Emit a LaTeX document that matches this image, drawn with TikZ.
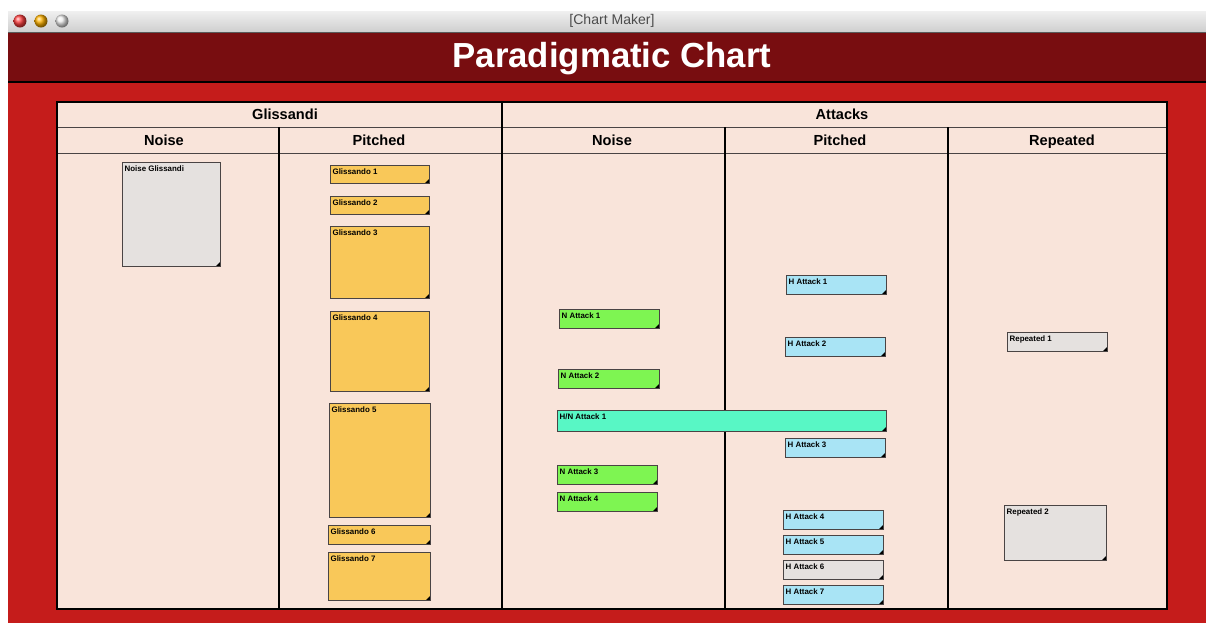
\documentclass[tikz,border=0pt]{standalone}
\usepackage{fontspec}
\setmainfont{Liberation Sans}
\usetikzlibrary{shadings}

\definecolor{winred}{HTML}{C51C1B}
\definecolor{bandred}{HTML}{780D10}
\definecolor{paper}{HTML}{F9E4DA}
\definecolor{glissyellow}{HTML}{F9C859}
\definecolor{noisegreen}{HTML}{7EF552}
\definecolor{hngreen}{HTML}{58F7C5}
\definecolor{pitchblue}{HTML}{A9E4F5}
\definecolor{cardgrey}{HTML}{E5E1DF}
\definecolor{cardedge}{HTML}{4A4444}
\definecolor{rulegrey}{HTML}{4A4444}

\def\px{0.02cm}
\tikzset{
  card/.style={draw=cardedge, line width=0.6pt, inner sep=0pt, anchor=north west,
    path picture={\fill[black] (path picture bounding box.south east)
      -- ++(-5,0) -- ++(5,-5) -- cycle;}},
  cardlabel/.style={anchor=north west, inner xsep=1.3pt, inner ysep=2pt,
    font=\fontsize{4.5}{5}\selectfont\bfseries},
  colhead/.style={anchor=base, font=\fontsize{8.3}{10}\selectfont\bfseries},
  light/.style={circle, minimum size=13*\px, inner sep=0pt, shading=ball},
}
% #1 fill, #2 name, #3 x, #4 y, #5 width, #6 height, #7 text
\newcommand{\card}[7]{%
  \node[card, fill=#1, minimum width=#5*\px, minimum height=#6*\px,
        label={[cardlabel]north west:#7}] (#2) at (#3,#4) {};}

\begin{document}
\begin{tikzpicture}[x=0.02cm, y=-0.02cm]
  \useasboundingbox (0,0) rectangle (1206,623);
  \fill[white] (0,0) rectangle (1206,623);

  % window
  \shade[top color=gray!12, bottom color=gray!38] (8,11) rectangle (1206,32);
  \fill[bandred] (8,32) rectangle (1206,82);
  \draw[gray!70!black, line width=0.6pt] (8,32.5) -- (1206,32.5);
  \fill[winred] (8,82) rectangle (1206,623);
  \draw[black, line width=0.6pt] (8,82) -- (1206,82);

  \node[light, ball color=red!75!white]      (close) at (20,21) {};
  \node[light, ball color=orange!60!yellow]  (mini)  at (41,21) {};
  \node[light, ball color=gray!15]           (zoom)  at (62,21) {};
  \node[text=black!70, font=\fontsize{8}{9}\selectfont] (wintitle) at (612,21) {[Chart Maker]};

  \node[text=white, font=\fontsize{19.8}{22}\selectfont\bfseries] (title) at (612,59) {Paradigmatic Chart};

  % table
  \fill[paper] (57,102) rectangle (1167,609);
  \draw[rulegrey, line width=0.9pt] (57,127.5) -- (1167,127.5);
  \draw[rulegrey, line width=0.9pt] (57,153.5) -- (1167,153.5);
  \draw[black, line width=0.7pt] (279,127) -- (279,609);
  \draw[black, line width=0.7pt] (502,102) -- (502,609);
  \draw[black, line width=0.7pt] (725,127) -- (725,609);
  \draw[black, line width=0.7pt] (948,127) -- (948,609);
  \draw[black, line width=0.8pt] (57,102) rectangle (1167,609);

  \node[colhead] (glis) at (285,119.5) {Glissandi};
  \node[colhead] (att)  at (842,119.5) {Attacks};
  \node[colhead] (gnoise) at (164,145)  {Noise};
  \node[colhead] (gpitch) at (379,145) {Pitched};
  \node[colhead] (anoise) at (612,145) {Noise};
  \node[colhead] (apitch) at (840,145) {Pitched};
  \node[colhead] (arep)   at (1062,145) {Repeated};

  % glissandi
  \card{cardgrey}{ng}{122}{162}{98}{104}{Noise Glissandi}
  \card{glissyellow}{g1}{330}{165}{99}{18}{Glissando 1}
  \card{glissyellow}{g2}{330}{196}{99}{18}{Glissando 2}
  \card{glissyellow}{g3}{330}{226}{99}{72}{Glissando 3}
  \card{glissyellow}{g4}{330}{311}{99}{80}{Glissando 4}
  \card{glissyellow}{g5}{329}{403}{101}{114}{Glissando 5}
  \card{glissyellow}{g6}{328}{525}{102}{19}{Glissando 6}
  \card{glissyellow}{g7}{328}{552}{102}{48}{Glissando 7}

  % attacks
  \card{noisegreen}{n1}{559}{309}{100}{19}{N Attack 1}
  \card{noisegreen}{n2}{558}{369}{101}{19}{N Attack 2}
  \card{noisegreen}{n3}{557}{465}{100}{19}{N Attack 3}
  \card{noisegreen}{n4}{557}{492}{100}{19}{N Attack 4}
  \card{hngreen}{hn1}{557}{410}{329}{21}{H/N Attack 1}

  \card{pitchblue}{h1}{786}{275}{100}{19}{H Attack 1}
  \card{pitchblue}{h2}{785}{337}{100}{19}{H Attack 2}
  \card{pitchblue}{h3}{785}{438}{100}{19}{H Attack 3}
  \card{pitchblue}{h4}{783}{510}{100}{19}{H Attack 4}
  \card{pitchblue}{h5}{783}{535}{100}{19}{H Attack 5}
  \card{cardgrey}{h6}{783}{560}{100}{19}{H Attack 6}
  \card{pitchblue}{h7}{783}{585}{100}{19}{H Attack 7}

  \card{cardgrey}{r1}{1007}{332}{100}{19}{Repeated 1}
  \card{cardgrey}{r2}{1004}{505}{102}{55}{Repeated 2}
\end{tikzpicture}
\end{document}
